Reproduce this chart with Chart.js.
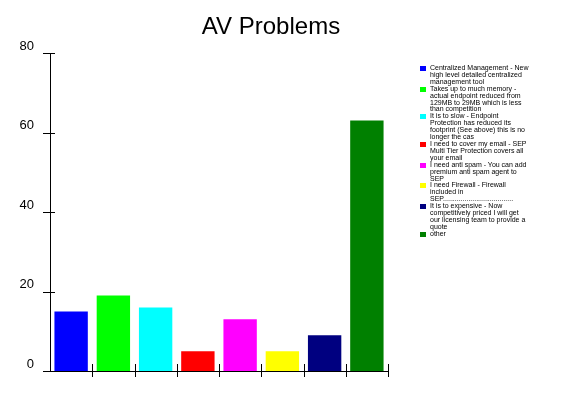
<!DOCTYPE html>
<html>
<head>
<meta charset="utf-8">
<script src="https://cdn.jsdelivr.net/npm/chart.js@4/dist/chart.umd.min.js"></script>
<style>
  body { margin: 0; background: #fff; }
  #wrap { position: relative; width: 580px; height: 400px; }
  #title {
    position: absolute; left: 271px; top: 12px; transform: translateX(-50%);
    font: 24px "Liberation Sans", Arial, sans-serif; line-height: 28px; color: #000; white-space: nowrap;
  }
  #legend {
    position: absolute; left: 420px; top: 65px; width: 120px;
    font: 7px "Liberation Sans", Arial, sans-serif; line-height: 6.9px; color: #000;
  }
  .item { position: relative; padding-left: 10px; width: 100px; }
  .box { position: absolute; left: 0; top: 1px; width: 6px; height: 5px; }
</style>
</head>
<body>
<div id="wrap">
  <canvas id="avChart" width="580" height="400"></canvas>
  <div id="title"></div>
  <div id="legend"></div>
</div>
<script>
const chartTitle = 'AV Problems';

// Categories (shown in the legend)
const problems = [
  'Centralized Management - New high level detailed centralized management tool',
  'Takes up to much memory - actual endpoint reduced from 129MB to 29MB which is less than competition',
  'It is to slow - Endpoint Protection has reduced its footprint (See above) this is no longer the cas',
  'I need to cover my email - SEP Multi Tier Protection covers all your email',
  'I need anti spam - You can add premium anti spam agent to SEP',
  'I need Firewall - Firewall included in SEP....................................',
  'It is to expensive - Now competitively priced I will get our licensing team to provide a quote',
  'other',
];

// Count per problem
const counts = [15, 19, 16, 5, 13, 5, 9, 63];

const barColors = ['#0000FF', '#00FF00', '#00FFFF', '#FF0000', '#FF00FF', '#FFFF00', '#000080', '#008000'];

const yTicks = [0, 20, 40, 60, 80];

document.getElementById('title').textContent = chartTitle;

// HTML legend with wrapped labels
const legend = document.getElementById('legend');
problems.forEach((label, i) => {
  const item = document.createElement('div');
  item.className = 'item';
  const box = document.createElement('span');
  box.className = 'box';
  box.style.background = barColors[i];
  item.appendChild(box);
  item.appendChild(document.createTextNode(label));
  legend.appendChild(item);
});

// Draws tick marks that cross both axes, like the original
const crossTicks = {
  id: 'crossTicks',
  afterDraw(chart) {
    const { ctx, chartArea, scales } = chart;
    ctx.save();
    ctx.strokeStyle = '#000';
    ctx.lineWidth = 1;
    ctx.beginPath();
    yTicks.forEach((v) => {
      const y = Math.round(scales.y.getPixelForValue(v)) + 0.5;
      ctx.moveTo(chartArea.left - 7, y);
      ctx.lineTo(chartArea.left + 5, y);
    });
    for (let i = 1; i <= problems.length; i++) {
      const x = i === problems.length
        ? chartArea.right
        : (scales.x.getPixelForValue(i - 1) + scales.x.getPixelForValue(i)) / 2;
      const px = Math.round(x) + 0.5;
      ctx.moveTo(px, chartArea.bottom - 7);
      ctx.lineTo(px, chartArea.bottom + 6);
    }
    ctx.stroke();
    ctx.restore();
  },
};

const ctx = document.getElementById('avChart').getContext('2d');
new Chart(ctx, {
  type: 'bar',
  data: {
    labels: problems,
    datasets: [{
      data: counts,
      backgroundColor: barColors,
      borderWidth: 0,
      barPercentage: 0.79,
      categoryPercentage: 1.0,
    }],
  },
  options: {
    responsive: false,
    animation: false,
    layout: { padding: { top: 53, right: 192, left: 0, bottom: 0 } },
    plugins: {
      legend: { display: false },
      title: { display: false },
      tooltip: { enabled: false },
    },
    scales: {
      x: {
        grid: { display: false },
        border: { display: true, color: '#000', width: 1 },
        ticks: { display: false },
        afterFit: (scale) => { scale.height = 29; },
      },
      y: {
        min: 0,
        max: 80,
        grid: { display: false },
        border: { display: true, color: '#000', width: 1 },
        ticks: {
          stepSize: 20,
          padding: 8,
          labelOffset: -7,
          color: '#000',
          font: { family: '"Liberation Sans", Arial, sans-serif', size: 13 },
        },
        afterFit: (scale) => { scale.width = 50; },
      },
    },
  },
  plugins: [crossTicks],
});
</script>
</body>
</html>
